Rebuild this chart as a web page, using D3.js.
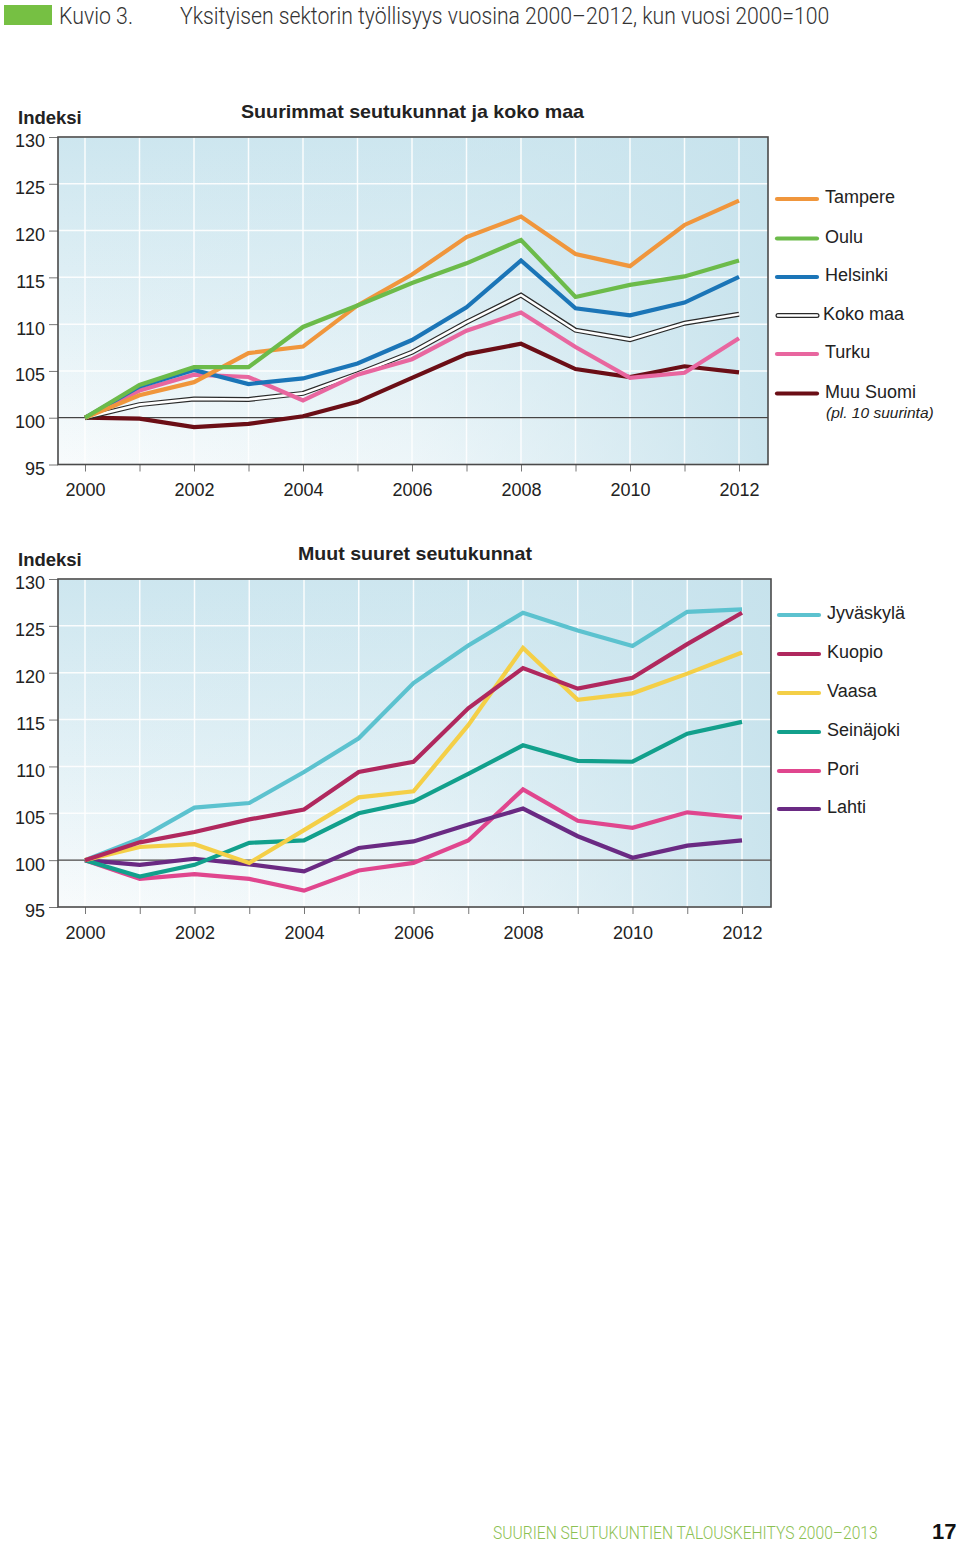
<!DOCTYPE html>
<html><head><meta charset="utf-8">
<script src="https://cdn.jsdelivr.net/npm/d3@7"></script>
<style>body{margin:0;background:#fff}svg{display:block}</style>
</head><body>
<script>
const years = [2000,2001,2002,2003,2004,2005,2006,2007,2008,2009,2010,2011,2012];
const yearLabels = [2000,2002,2004,2006,2008,2010,2012];
const yTicks = [95,100,105,110,115,120,125,130];

// Chart 1: Suurimmat seutukunnat ja koko maa
const tampere  = [100,102.4,103.8,106.9,107.6,112.0,115.3,119.3,121.5,117.5,116.2,120.6,123.2];
const oulu     = [100,103.5,105.4,105.4,109.7,112.0,114.4,116.5,119.0,112.9,114.2,115.1,116.8];
const helsinki = [100,103.35,105.1,103.6,104.2,105.8,108.3,111.8,116.8,111.7,110.95,112.3,115.05];
const kokoMaa  = [100,101.4,102.0,101.95,102.6,104.7,107.0,110.2,113.1,109.35,108.35,110.1,111.05];
const turku    = [100,102.9,104.6,104.35,101.85,104.6,106.25,109.3,111.25,107.55,104.25,104.8,108.5];
const muuSuomi = [100,99.9,99.0,99.35,100.15,101.7,104.25,106.8,107.9,105.2,104.35,105.5,104.85];

// Chart 2: Muut suuret seutukunnat
const jyvaskyla = [100,102.3,105.6,106.1,109.4,113.0,118.9,122.9,126.4,124.5,122.85,126.5,126.75];
const kuopio    = [100,101.9,103.0,104.35,105.4,109.4,110.5,116.2,120.5,118.3,119.45,123.05,126.4];
const vaasa     = [100,101.4,101.7,99.7,103.2,106.7,107.35,114.4,122.65,117.1,117.8,119.9,122.15];
const seinajoki = [100,98.25,99.5,101.85,102.1,105.0,106.25,109.2,112.25,110.6,110.5,113.5,114.75];
const pori      = [100,98.0,98.5,98.0,96.75,98.9,99.7,102.1,107.55,104.2,103.45,105.1,104.55];
const lahti     = [100,99.5,100.15,99.55,98.8,101.3,102.0,103.8,105.5,102.55,100.25,101.55,102.1];

const series1 = [
  {name:"Tampere", values:tampere, color:"#f0963c"},
  {name:"Oulu", values:oulu, color:"#6cbb4a"},
  {name:"Helsinki", values:helsinki, color:"#1b75b7"},
  {name:"Koko maa", values:kokoMaa, color:"double"},
  {name:"Turku", values:turku, color:"#e8669f"},
  {name:"Muu Suomi", values:muuSuomi, color:"#6b0e16", sub:"(pl. 10 suurinta)"}
];
const drawOrder1 = ["Muu Suomi","Koko maa","Turku","Helsinki","Tampere","Oulu"];
const series2 = [
  {name:"Jyväskylä", values:jyvaskyla, color:"#5cc2cf"},
  {name:"Kuopio", values:kuopio, color:"#b0285e"},
  {name:"Vaasa", values:vaasa, color:"#f4cf47"},
  {name:"Seinäjoki", values:seinajoki, color:"#12a08c"},
  {name:"Pori", values:pori, color:"#e0468e"},
  {name:"Lahti", values:lahti, color:"#6a2a83"}
];
const drawOrder2 = ["Jyväskylä","Pori","Lahti","Seinäjoki","Vaasa","Kuopio"];

const W = 960, H = 1544;
const svg = d3.select("body").append("svg").attr("width",W).attr("height",H)
  .style("font-family","'Liberation Sans', Arial, Helvetica, sans-serif");

const defs = svg.append("defs");
const gv = defs.append("linearGradient").attr("id","bgv").attr("x1",0).attr("y1",0).attr("x2",0).attr("y2",1);
gv.append("stop").attr("offset","0").attr("stop-color","#cde6ef");
gv.append("stop").attr("offset","0.55").attr("stop-color","#e3f1f6");
gv.append("stop").attr("offset","1").attr("stop-color","#f8fbfc");
const gh = defs.append("linearGradient").attr("id","bgh").attr("x1",0).attr("y1",0).attr("x2",1).attr("y2",0);
gh.append("stop").attr("offset","0").attr("stop-color","#cde6ef").attr("stop-opacity",0);
gh.append("stop").attr("offset","0.5").attr("stop-color","#cde6ef").attr("stop-opacity",0.25);
gh.append("stop").attr("offset","1").attr("stop-color","#c6e2ec").attr("stop-opacity",0.9);

// condensed text: draw then scale horizontally to target width
function condensed(str, x, y, width, opts){
  const t = svg.append("text").attr("x",0).attr("y",0)
    .attr("font-family",opts.family||"Roboto, sans-serif")
    .attr("font-weight",opts.weight||300).attr("font-size",opts.size).attr("fill",opts.fill).text(str);
  const nat = t.node().getComputedTextLength();
  const sx = width/nat;
  t.attr("transform",`translate(${x},${y}) scale(${sx},1)`);
  return t;
}

// Header
svg.append("rect").attr("x",4).attr("y",5).attr("width",48).attr("height",20).attr("fill","#76c043");
condensed("Kuvio 3.", 59, 24, 74, {size:24, fill:"#333"});
condensed("Yksityisen sektorin työllisyys vuosina 2000–2012, kun vuosi 2000=100", 180, 24, 650, {size:24, fill:"#333"});

function drawChart(cfg){
  const {top,bottom,left,right,x0,x1,series,order,title,titleX,titleW,legendYs,legendX,textX} = cfg;
  const x = d3.scaleLinear().domain([2000,2012]).range([x0,x1]);
  const y = d3.scaleLinear().domain([95,130]).range([bottom,top]);
  const g = svg.append("g");
  g.append("rect").attr("x",left).attr("y",top).attr("width",right-left).attr("height",bottom-top).attr("fill","url(#bgv)");
  g.append("rect").attr("x",left).attr("y",top).attr("width",right-left).attr("height",bottom-top).attr("fill","url(#bgh)");
  // grid
  g.selectAll(".vg").data(years).join("line").attr("x1",d=>x(d)).attr("x2",d=>x(d))
    .attr("y1",top).attr("y2",bottom).attr("stroke","#fff").attr("stroke-width",1.5).attr("opacity",0.9);
  g.selectAll(".hg").data(yTicks).join("line").attr("x1",left).attr("x2",right)
    .attr("y1",d=>y(d)).attr("y2",d=>y(d)).attr("stroke","#fff").attr("stroke-width",1.5).attr("opacity",0.9);
  // 100 line
  g.append("line").attr("x1",left).attr("x2",right).attr("y1",y(100)).attr("y2",y(100))
    .attr("stroke","#444").attr("stroke-width",1.2);
  // axes
  const ya = g.append("g").attr("transform",`translate(${left},0)`)
    .call(d3.axisLeft(y).tickValues(yTicks).tickSize(9).tickPadding(4).tickFormat(d3.format("d")));
  ya.select(".domain").remove();
  ya.selectAll(".tick line").attr("stroke","#777");
  ya.selectAll(".tick text").attr("font-size",18).attr("fill","#222").attr("font-family","'Liberation Sans', Arial, sans-serif")
    .attr("x",-13).attr("dy","0.55em");
  const xa = g.append("g").attr("transform",`translate(0,${bottom})`)
    .call(d3.axisBottom(x).tickValues(years).tickSize(7).tickFormat(d=>yearLabels.includes(d)?String(d):""));
  xa.select(".domain").remove();
  xa.selectAll(".tick line").attr("stroke","#777");
  xa.selectAll(".tick text").attr("font-size",18).attr("fill","#222").attr("font-family","'Liberation Sans', Arial, sans-serif")
    .attr("y",19).attr("dy","0.71em");
  // border
  g.append("rect").attr("x",left).attr("y",top).attr("width",right-left).attr("height",bottom-top)
    .attr("fill","none").attr("stroke","#4a4a4a").attr("stroke-width",1.6);
  // lines
  const line = d3.line().x((d,i)=>x(years[i])).y(d=>y(d));
  order.forEach(n=>{
    const s = series.find(t=>t.name===n);
    if (s.color==="double"){
      g.append("path").attr("d",line(s.values)).attr("fill","none").attr("stroke","#2a2a2a").attr("stroke-width",5);
      g.append("path").attr("d",line(s.values)).attr("fill","none").attr("stroke","#fff").attr("stroke-width",2.6);
    } else {
      g.append("path").attr("d",line(s.values)).attr("fill","none").attr("stroke",s.color)
        .attr("stroke-width",4.2).attr("stroke-linejoin","miter");
    }
  });
  // titles
  g.append("text").attr("x",18).attr("y",top-13).attr("font-size",18.5).attr("font-weight","bold").attr("fill","#222").text("Indeksi");
  g.append("text").attr("x",titleX).attr("y",top-19).attr("font-size",19).attr("font-weight","bold").attr("fill","#222")
    .attr("textLength",titleW).attr("lengthAdjust","spacingAndGlyphs").text(title);
  // legend
  series.forEach((s,i)=>{
    const ly = legendYs[i];
    if (s.color==="double"){
      g.append("line").attr("x1",legendX+1).attr("x2",legendX+40).attr("y1",ly).attr("y2",ly)
        .attr("stroke","#2a2a2a").attr("stroke-width",5).attr("stroke-linecap","round");
      g.append("line").attr("x1",legendX+1).attr("x2",legendX+40).attr("y1",ly).attr("y2",ly)
        .attr("stroke","#fff").attr("stroke-width",2.4).attr("stroke-linecap","round");
    } else {
      g.append("line").attr("x1",legendX).attr("x2",legendX+40).attr("y1",ly).attr("y2",ly)
        .attr("stroke",s.color).attr("stroke-width",4.2).attr("stroke-linecap","round");
    }
    g.append("text").attr("x",s.color==="double"?textX-2:textX).attr("y",ly+4).attr("font-size",18).attr("fill","#222").text(s.name);
    if (s.sub) g.append("text").attr("x",textX+1).attr("y",ly+24).attr("font-size",15.5).attr("font-style","italic").attr("fill","#222").text(s.sub);
  });
}

drawChart({top:137,bottom:464.5,left:58,right:768,x0:85,x1:739,series:series1,order:drawOrder1,
  title:"Suurimmat seutukunnat ja koko maa",titleX:241,titleW:343,legendYs:[199,238.5,277,315.5,354,393.5],legendX:777,textX:825});
drawChart({top:579,bottom:907,left:58,right:771,x0:85,x1:742,series:series2,order:drawOrder2,
  title:"Muut suuret seutukunnat",titleX:298,titleW:234,legendYs:[615,654,693,732,771,809],legendX:779,textX:827});

// Footer
condensed("SUURIEN SEUTUKUNTIEN TALOUSKEHITYS 2000–2013", 493, 1539, 385, {size:19, fill:"#8cc152"});
svg.append("text").attr("x",932).attr("y",1539).attr("font-size",22).attr("font-weight","bold").attr("fill","#111")
  .text("17");
</script>
</body></html>
